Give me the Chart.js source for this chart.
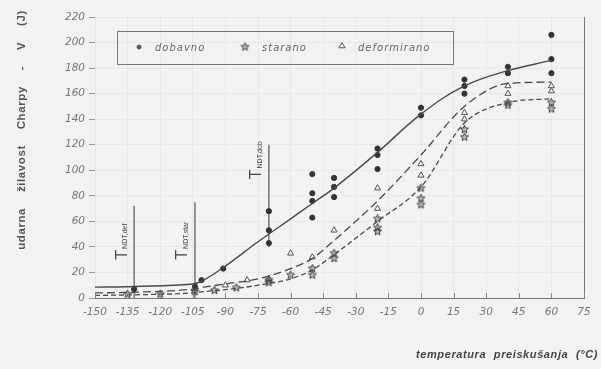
<!DOCTYPE html>
<html>
<head>
<meta charset="utf-8">
<script src="https://cdn.jsdelivr.net/npm/chart.js@4.4.1/dist/chart.umd.min.js"></script>
<style>
  html, body { margin: 0; padding: 0; background: #f2f2f2; }
  #wrap { width: 601px; height: 369px; position: relative; }
</style>
</head>
<body>
<div id="wrap"><canvas id="chart" width="601" height="369"></canvas></div>
<script>
// ---- data ----
const xTicks = [-150, -135, -120, -105, -90, -75, -60, -45, -30, -15, 0, 15, 30, 45, 60, 75];
const yTicks = [0, 20, 40, 60, 80, 100, 120, 140, 160, 180, 200, 220];

// fitted curves
const curveT = [-150, -132, -105, -100, -90, -75, -60, -50, -40, -20, 0, 20, 40, 60];
const dobavnoCurve = [8.5, 9, 11, 14, 25, 44, 62, 74, 86, 114, 144, 166, 178, 186];
const deformCurve = [4, 4.5, 7, 8.5, 11, 15, 23, 31, 45, 76, 112, 150, 168, 169];
const staranoCurve = [2, 2.5, 4, 5, 6.5, 10, 15, 22, 34, 60, 87, 137, 153, 156];

// measured points
const dobavnoT = [-132, -104, -101, -91, -70, -70, -70, -50, -50, -50, -50, -40, -40, -40, -20, -20, -20, 0, 0, 20, 20, 20, 40, 40, 60, 60, 60];
const dobavnoE = [7, 9, 14, 23, 68, 53, 43, 97, 82, 76, 63, 94, 87, 79, 117, 112, 101, 149, 143, 171, 166, 160, 181, 176, 206, 187, 176];
const staranoT = [-135, -120, -104, -95, -85, -70, -70, -60, -50, -50, -40, -40, -20, -20, -20, 0, 0, 0, 20, 20, 40, 40, 60, 60];
const staranoE = [3, 3, 5, 6, 8, 12, 14, 18, 18, 23, 35, 31, 62, 55, 52, 86, 78, 73, 132, 126, 153, 151, 153, 148];
const deformT = [-104, -90, -80, -70, -60, -50, -40, -20, -20, 0, 0, 20, 20, 40, 40, 60, 60];
const deformE = [7, 10, 14, 15, 35, 32, 53, 86, 70, 105, 96, 145, 140, 166, 160, 166, 162];

// NDT transition temperatures (vertical markers)
const ndtT = [-132, -104, -70];
const ndtLow = [0, 0, 40];
const ndtHigh = [72, 75, 120];
const ndtSub = ['NDT,def', 'NDT,star', 'NDT,dob'];

const legendNames = ['dobavno', 'starano', 'deformirano'];

const ink = '#4a4a4a';
const pts = (xs, ys) => xs.map((x, i) => ({ x, y: ys[i] }));

// five-point star marker (Chart.js 'star' is an asterisk)
function makeStar(r, color) {
    const c = document.createElement('canvas');
    const s = Math.ceil(r * 2 + 2);
    c.width = s; c.height = s;
    const g = c.getContext('2d');
    g.strokeStyle = color;
    g.fillStyle = 'rgba(80,80,80,0.35)';
    g.lineWidth = 0.9;
    g.beginPath();
    for (let i = 0; i < 10; i++) {
        const rad = i % 2 === 0 ? r : r * 0.45;
        const ang = -Math.PI / 2 + i * Math.PI / 5;
        const px = s / 2 + rad * Math.cos(ang);
        const py = s / 2 + rad * Math.sin(ang);
        if (i === 0) g.moveTo(px, py); else g.lineTo(px, py);
    }
    g.closePath();
    g.fill();
    g.stroke();
    return c;
}
const starImg = makeStar(4.2, '#333');

const datasets = [
    { type: 'line', data: pts(curveT, dobavnoCurve), borderColor: ink, borderWidth: 1.4, pointRadius: 0, tension: 0.4 },
    { type: 'line', data: pts(curveT, deformCurve), borderColor: ink, borderWidth: 1.3, borderDash: [8, 4], pointRadius: 0, cubicInterpolationMode: 'monotone' },
    { type: 'line', data: pts(curveT, staranoCurve), borderColor: ink, borderWidth: 1.3, borderDash: [5, 3], pointRadius: 0, cubicInterpolationMode: 'monotone' },
    { type: 'scatter', data: pts(dobavnoT, dobavnoE), pointStyle: 'circle', pointRadius: 2.6, backgroundColor: '#333', borderColor: '#333', borderWidth: 1 },
    { type: 'scatter', data: pts(staranoT, staranoE), pointStyle: starImg, pointRadius: 4 },
    { type: 'scatter', data: pts(deformT, deformE), pointStyle: 'triangle', pointRadius: 3.5, backgroundColor: 'transparent', borderColor: '#555', borderWidth: 1 }
];
ndtT.forEach((t, i) => {
    datasets.push({ type: 'line', data: [{ x: t, y: ndtLow[i] }, { x: t, y: ndtHigh[i] }], borderColor: '#555', borderWidth: 1.2, pointRadius: 0 });
});

const decorPlugin = {
    id: 'decor',
    afterDraw(chart) {
        const { ctx, chartArea: a, scales: { x, y } } = chart;
        ctx.save();
        // right border
        ctx.strokeStyle = '#777';
        ctx.lineWidth = 1;
        ctx.beginPath();
        ctx.moveTo(a.right + 0.5, a.top);
        ctx.lineTo(a.right + 0.5, a.bottom);
        ctx.stroke();
        // x ticks pointing up
        ctx.strokeStyle = '#888';
        xTicks.forEach(t => {
            const px = Math.round(x.getPixelForValue(t)) + 0.5;
            ctx.beginPath();
            ctx.moveTo(px, a.bottom);
            ctx.lineTo(px, a.bottom - 5);
            ctx.stroke();
        });

        // NDT labels
        ctx.fillStyle = '#444';
        ndtT.forEach((t, i) => {
            const px = x.getPixelForValue(t) - 12;
            const py = y.getPixelForValue(ndtLow[i] === 0 ? 30 : 93);
            ctx.save();
            ctx.translate(px, py);
            ctx.rotate(-Math.PI / 2);
            ctx.textBaseline = 'middle';
            ctx.textAlign = 'left';
            ctx.font = '16px "Liberation Sans", Arial, sans-serif';
            ctx.fillText('T', 0, 0);
            const w = ctx.measureText('T').width;
            ctx.font = '7px "Liberation Sans", Arial, sans-serif';
            ctx.fillText(ndtSub[i], w + 1, 3);
            ctx.restore();
        });

        // legend box
        ctx.strokeStyle = '#777';
        ctx.lineWidth = 1;
        ctx.strokeRect(117.5, 31.5, 336, 33);
        ctx.font = 'italic 10px "DejaVu Sans", sans-serif';
        ctx.fillStyle = '#666';
        ctx.textBaseline = 'middle';
        ctx.textAlign = 'left';
        if ('letterSpacing' in ctx) ctx.letterSpacing = '1px';
        const ly = 48;
        const items = [
            { mx: 139, tx: 155, style: 'circle' },
            { mx: 245, tx: 262, style: 'star' },
            { mx: 342, tx: 358, style: 'triangle' }
        ];
        items.forEach((it, i) => {
            ctx.fillText(legendNames[i], it.tx, ly);
            ctx.strokeStyle = '#555';
            ctx.fillStyle = '#555';
            if (it.style === 'circle') {
                Chart.helpers.drawPoint(ctx, { pointStyle: 'circle', radius: 2, borderWidth: 1 }, it.mx, ly - 1);
            } else if (it.style === 'star') {
                Chart.helpers.drawPoint(ctx, { pointStyle: starImg, radius: 4 }, it.mx, ly - 1);
            } else {
                ctx.fillStyle = 'transparent';
                Chart.helpers.drawPoint(ctx, { pointStyle: 'triangle', radius: 3.5, borderWidth: 1 }, it.mx, ly - 2);
            }
            ctx.fillStyle = '#666';
        });
        if ('letterSpacing' in ctx) ctx.letterSpacing = '0px';

        // y axis title
        ctx.save();
        ctx.translate(22, 130);
        ctx.rotate(-Math.PI / 2);
        ctx.textAlign = 'center';
        ctx.textBaseline = 'middle';
        ctx.font = 'bold 11.5px "Liberation Sans", Arial, sans-serif';
        ctx.fillStyle = '#555';
        if ('letterSpacing' in ctx) ctx.letterSpacing = '0.6px';
        if ('wordSpacing' in ctx) ctx.wordSpacing = '12px';
        ctx.fillText('udarna žilavost Charpy - V (J)', 0, 0);
        ctx.restore();

        // x axis title
        ctx.textAlign = 'right';
        ctx.textBaseline = 'middle';
        ctx.font = 'bold italic 11px "Liberation Sans", Arial, sans-serif';
        ctx.fillStyle = '#444';
        if ('letterSpacing' in ctx) ctx.letterSpacing = '0.6px';
        if ('wordSpacing' in ctx) ctx.wordSpacing = '4px';
        ctx.fillText('temperatura preiskušanja (°C)', 598, 355);
        ctx.restore();
    }
};

Chart.defaults.animation = false;

new Chart(document.getElementById('chart'), {
    type: 'scatter',
    data: { datasets },
    options: {
        responsive: false,
        events: [],
        layout: { autoPadding: false, padding: { left: 0, right: 17, top: 17, bottom: 0 } },
        plugins: { legend: { display: false }, tooltip: { enabled: false } },
        scales: {
            x: {
                type: 'linear',
                min: -150,
                max: 75,
                afterBuildTicks: s => { s.ticks = xTicks.map(v => ({ value: v })); },
                afterFit: s => { s.height = 71; },
                border: { display: true, color: '#777', width: 1 },
                grid: { color: 'rgba(0,0,0,0.04)', drawTicks: false },
                ticks: {
                    padding: 8,
                    maxRotation: 0,
                    autoSkip: false,
                    color: '#777',
                    font: { family: '"DejaVu Sans", sans-serif', size: 10.5, style: 'italic' }
                }
            },
            y: {
                min: 0,
                max: 220,
                afterBuildTicks: s => { s.ticks = yTicks.map(v => ({ value: v })); },
                afterFit: s => { s.width = 95; },
                border: { display: false },
                grid: { color: 'rgba(0,0,0,0.04)', tickColor: '#999', tickLength: 6 },
                ticks: {
                    padding: 4,
                    color: '#777',
                    font: { family: '"DejaVu Sans", sans-serif', size: 10.5, style: 'italic' }
                }
            }
        }
    },
    plugins: [decorPlugin]
});
</script>
</body>
</html>
